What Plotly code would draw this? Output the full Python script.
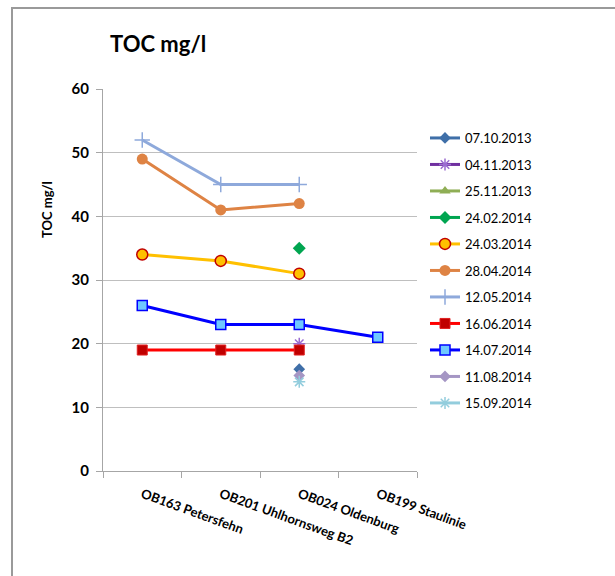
import plotly.graph_objects as go

categories = ["OB163 Petersfehn", "OB201 Uhlhornsweg B2", "OB024 Oldenburg", "OB199 Staulinie"]

dates = ["07.10.2013", "04.11.2013", "25.11.2013", "24.02.2014", "24.03.2014", "28.04.2014",
         "12.05.2014", "16.06.2014", "14.07.2014", "11.08.2014", "15.09.2014"]

v_07_10_2013 = [None, None, 16, None]
v_04_11_2013 = [None, None, 20, None]
v_25_11_2013 = [None, None, 31, None]
v_24_02_2014 = [None, None, 35, None]
v_24_03_2014 = [34, 33, 31, None]
v_28_04_2014 = [49, 41, 42, None]
v_12_05_2014 = [52, 45, 45, None]
v_16_06_2014 = [19, 19, 19, None]
v_14_07_2014 = [26, 23, 23, 21]
v_11_08_2014 = [None, None, 15, None]
v_15_09_2014 = [None, None, 14, None]

values = [v_07_10_2013, v_04_11_2013, v_25_11_2013, v_24_02_2014, v_24_03_2014, v_28_04_2014,
          v_12_05_2014, v_16_06_2014, v_14_07_2014, v_11_08_2014, v_15_09_2014]

styles = [
    dict(line="#3F6FA8", sym="diamond", size=9, fill="#3F6FA8", edge="#3F6FA8", ew=0),
    dict(line="#7030A0", sym="asterisk-open", size=10, fill="#9A6CD0", edge="#9A6CD0", ew=1.5),
    dict(line="#8FAE55", sym="triangle-up", size=10, fill="#8FAE55", edge="#8FAE55", ew=0),
    dict(line="#00A550", sym="diamond", size=10, fill="#00A550", edge="#00A550", ew=0),
    dict(line="#FFC000", sym="circle", size=11, fill="#FFC000", edge="#C00000", ew=1.5),
    dict(line="#DE8344", sym="circle", size=11, fill="#DE8344", edge="#DE8344", ew=0),
    dict(line="#8EA9DB", sym="cross-thin-open", size=11, fill="#8EA9DB", edge="#8EA9DB", ew=1.5),
    dict(line="#FF0000", sym="square", size=10, fill="#C00000", edge="#E02020", ew=1),
    dict(line="#0000FF", sym="square", size=10, fill="#6FC8FF", edge="#0000FF", ew=1.5),
    dict(line="#A596C4", sym="diamond", size=9, fill="#A596C4", edge="#A596C4", ew=0),
    dict(line="#93CDDD", sym="asterisk-open", size=10, fill="#93CDDD", edge="#93CDDD", ew=1.5),
]

FONT = "Lato, Carlito, Calibri, sans-serif"

fig = go.Figure()
for i, (name, vals, st) in enumerate(zip(dates, values, styles)):
    fig.add_trace(go.Scatter(
        x=categories, y=vals, name=name, mode="lines+markers",
        legendgroup=f"g{i}",
        line=dict(color=st["line"], width=3),
        marker=dict(symbol=st["sym"], size=st["size"], color=st["fill"],
                    line=dict(color=st["edge"], width=st["ew"])),
        connectgaps=False,
    ))

W, H = 615, 576
L, R, T, B = 103, 417, 89, 471
pw, ph = R - L, B - T

def px(x):
    return (x - L) / pw

def py(y):
    return (B - y) / ph

fig.update_layout(
    width=W, height=H,
    margin=dict(l=L, r=W - R, t=T, b=H - B),
    paper_bgcolor="white", plot_bgcolor="white",
    font=dict(family=FONT, color="#000000"),
    showlegend=True,
    legend=dict(x=px(425), y=py(123), xanchor="left", yanchor="top",
                font=dict(family=FONT, size=13, color="#000000"),
                tracegroupgap=6.6, bgcolor="rgba(0,0,0,0)"),
    xaxis=dict(type="category", categoryorder="array", categoryarray=categories,
               range=[-0.5, 3.5], showline=True, linecolor="#A6A6A6", linewidth=1,
               ticks="outside", ticklen=6, tickcolor="#A6A6A6", tickson="boundaries",
               showgrid=False, tickangle=20, ticklabelstandoff=10,
               tickfont=dict(family=FONT, size=13, color="#000000", weight="bold")),
    yaxis=dict(range=[0, 60], dtick=10, showline=True, linecolor="#A6A6A6", linewidth=1,
               ticks="outside", ticklen=6, tickcolor="#A6A6A6",
               showgrid=True, gridcolor="#BFBFBF", gridwidth=1, zeroline=False,
               ticklabelstandoff=4,
               tickfont=dict(family=FONT, size=15, color="#000000", weight="bold")),
    annotations=[
        dict(text="<b>TOC mg/l</b>", xref="paper", yref="paper", x=px(108), y=py(43),
             xanchor="left", yanchor="middle", showarrow=False,
             font=dict(family=FONT, size=22, color="#000000")),
        dict(text="<b>TOC mg/l</b>", xref="paper", yref="paper", x=px(47), y=py(210),
             xanchor="center", yanchor="middle", showarrow=False, textangle=-90,
             font=dict(family=FONT, size=13, color="#000000")),
    ],
    shapes=[
        dict(type="path", xref="paper", yref="paper",
             path=f"M {px(12)} {py(600)} L {px(12)} {py(8)} L {px(620)} {py(8)}",
             line=dict(color="#9A9A9A", width=2)),
    ],
)

fig.write_html("out.html")
